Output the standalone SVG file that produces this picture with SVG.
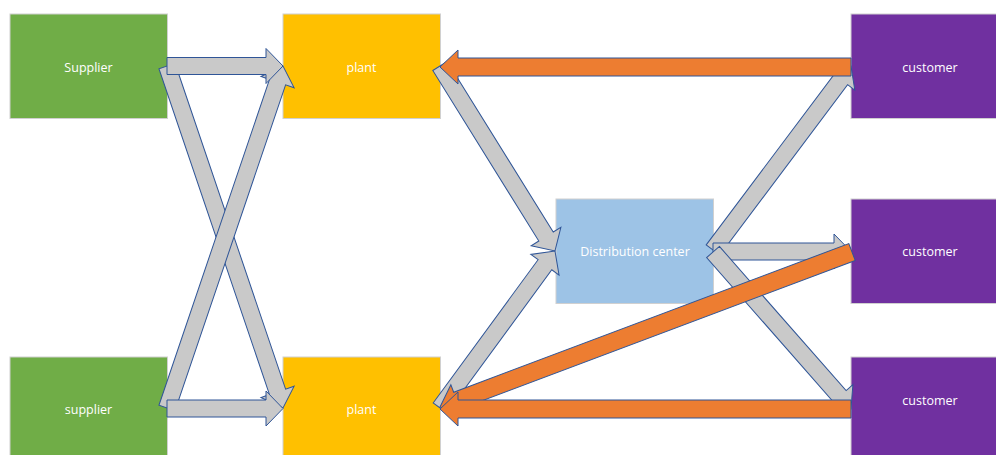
<svg xmlns="http://www.w3.org/2000/svg" width="996" height="455" viewBox="0 0 996 455">
<style>
.node rect{stroke:#d0d0d0;stroke-width:1}
.node text{font-family:"Open Sans","Liberation Sans",sans-serif;font-size:12.5px;fill:#ffffff;text-anchor:middle}
.g{fill:#c9c9c9;stroke:#2f5597;stroke-width:1;stroke-linejoin:miter}
.o{fill:#ed7d31;stroke:#2f5597;stroke-width:1;stroke-linejoin:miter}
</style>
<rect width="996" height="455" fill="#ffffff"/>
<g id="supplier-top" class="node"><rect x="10" y="14" width="157.5" height="104.5" fill="#70ad47"/><text x="88.5" y="71.5">Supplier</text></g>
<g id="supplier-bottom" class="node"><rect x="10" y="357" width="157.5" height="104.5" fill="#70ad47"/><text x="88.5" y="414">supplier</text></g>
<g id="plant-top" class="node"><rect x="283" y="14" width="157.5" height="104.5" fill="#ffc000"/><text x="361.5" y="71.5">plant</text></g>
<g id="plant-bottom" class="node"><rect x="283" y="357" width="157.5" height="104.5" fill="#ffc000"/><text x="361.5" y="414">plant</text></g>
<g id="distribution-center" class="node"><rect x="556" y="199" width="157.5" height="104.5" fill="#9dc3e6"/><text x="635" y="256">Distribution center</text></g>
<g id="customer-top" class="node"><rect x="851" y="14" width="157.5" height="104.5" fill="#7030a0"/><text x="930" y="71.5">customer</text></g>
<g id="customer-mid" class="node"><rect x="851" y="199" width="157.5" height="104.5" fill="#7030a0"/><text x="930" y="256">customer</text></g>
<g id="customer-bottom" class="node"><rect x="851" y="357" width="157.5" height="104.5" fill="#7030a0"/><text x="930" y="405">customer</text></g>
<g id="connectors">
<polygon class="g" transform="translate(167,66) rotate(71.26)" points="0,-8.5 344.1,-8.5 344.1,-17.5 361.1,0 344.1,17.5 344.1,8.5 0,8.5"/>
<polygon class="g" transform="translate(167,408) rotate(-71.26)" points="0,-8.5 344.1,-8.5 344.1,-17.5 361.1,0 344.1,17.5 344.1,8.5 0,8.5"/>
<polygon class="g" transform="translate(167,66)" points="0,-8.5 99,-8.5 99,-17.5 116,0 99,17.5 99,8.5 0,8.5"/>
<polygon class="g" transform="translate(167,408.5)" points="0,-8.5 99,-8.5 99,-17.5 116,0 99,17.5 99,8.5 0,8.5"/>
<polygon class="g" transform="translate(440,66) rotate(58.13)" points="0,-8.5 200.8,-8.5 200.8,-17.5 217.8,0 200.8,17.5 200.8,8.5 0,8.5"/>
<polygon class="g" transform="translate(440,408) rotate(-53.78)" points="0,-8.5 177.6,-8.5 177.6,-17.5 194.6,0 177.6,17.5 177.6,8.5 0,8.5"/>
<polygon class="g" transform="translate(713,250) rotate(-53.13)" points="0,-8.5 213,-8.5 213,-17.5 230,0 213,17.5 213,8.5 0,8.5"/>
<polygon class="g" transform="translate(713,251.5)" points="0,-8.5 121,-8.5 121,-17.5 138,0 121,17.5 121,8.5 0,8.5"/>
<polygon class="g" transform="translate(713,252) rotate(48.69)" points="0,-8.5 192,-8.5 192,-17.5 209,0 192,17.5 192,8.5 0,8.5"/>
<polygon class="o" transform="translate(852,252) rotate(159.38)" points="0,-9 422.2,-9 422.2,-17 440.2,0 422.2,17 422.2,9 0,9"/>
<polygon class="o" transform="translate(851,67) rotate(180)" points="0,-9 393,-9 393,-17 411,0 393,17 393,9 0,9"/>
<polygon class="o" transform="translate(851,409) rotate(180)" points="0,-9 393,-9 393,-17 411,0 393,17 393,9 0,9"/>
</g>
</svg>
